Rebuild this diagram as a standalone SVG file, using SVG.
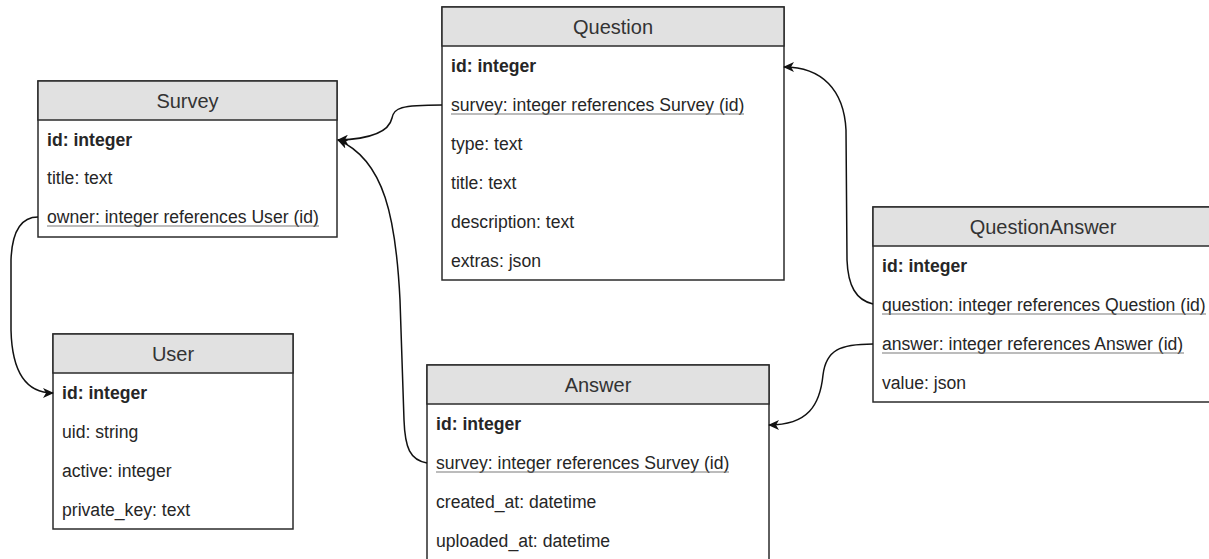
<svg xmlns="http://www.w3.org/2000/svg" width="1209" height="559" viewBox="0 0 1209 559">
  <style>
    .box { fill: #ffffff; stroke: #2b2b2b; stroke-width: 1.5; }
    .head { fill: #e1e1e1; stroke: #2b2b2b; stroke-width: 1.5; }
    .title { font-family: "Liberation Sans", Arial, sans-serif; font-size: 20px; fill: #333333; text-anchor: middle; }
    .row { font-family: "Liberation Sans", Arial, sans-serif; font-size: 17.6px; fill: #262626; }
    .pk { font-weight: bold; }
    .uline { stroke: #7a7a7a; stroke-width: 1.2; }
    .edge { fill: none; stroke: #111111; stroke-width: 1.5; marker-end: url(#arrow); }
  </style>
  <defs>
    <marker id="arrow" markerWidth="12" markerHeight="10" refX="10" refY="5" orient="auto" markerUnits="userSpaceOnUse">
      <path d="M0,0 L11,5 L0,10 L3,5 Z" fill="#111111"/>
    </marker>
  </defs>
  <rect width="1209" height="559" fill="#ffffff"/>

  <!-- Survey table -->
  <g id="survey">
    <rect class="box" x="38" y="81" width="299" height="156"/>
    <rect class="head" x="38" y="81" width="299" height="39"/>
    <text class="title" x="187.5" y="108">Survey</text>
    <text class="row pk" x="47" y="146">id: integer</text>
    <text class="row" x="47" y="184">title: text</text>
    <text class="row" x="47" y="223">owner: integer references User (id)</text>
    <line class="uline" x1="47" y1="226" x2="319" y2="226"/>
  </g>

  <!-- Question table -->
  <g id="question">
    <rect class="box" x="442" y="7" width="342" height="273"/>
    <rect class="head" x="442" y="7" width="342" height="39"/>
    <text class="title" x="613" y="34">Question</text>
    <text class="row pk" x="451" y="72">id: integer</text>
    <text class="row" x="451" y="111">survey: integer references Survey (id)</text>
    <line class="uline" x1="451" y1="114" x2="744" y2="114"/>
    <text class="row" x="451" y="150">type: text</text>
    <text class="row" x="451" y="189">title: text</text>
    <text class="row" x="451" y="228">description: text</text>
    <text class="row" x="451" y="267">extras: json</text>
  </g>

  <!-- QuestionAnswer table -->
  <g id="questionanswer">
    <rect class="box" x="873" y="207" width="340" height="195"/>
    <rect class="head" x="873" y="207" width="340" height="39"/>
    <text class="title" x="1043" y="234">QuestionAnswer</text>
    <text class="row pk" x="882" y="272">id: integer</text>
    <text class="row" x="882" y="311">question: integer references Question (id)</text>
    <line class="uline" x1="882" y1="314" x2="1206" y2="314"/>
    <text class="row" x="882" y="350">answer: integer references Answer (id)</text>
    <line class="uline" x1="882" y1="353" x2="1184" y2="353"/>
    <text class="row" x="882" y="389">value: json</text>
  </g>

  <!-- User table -->
  <g id="user">
    <rect class="box" x="53" y="334" width="240" height="195"/>
    <rect class="head" x="53" y="334" width="240" height="39"/>
    <text class="title" x="173" y="361">User</text>
    <text class="row pk" x="62" y="399">id: integer</text>
    <text class="row" x="62" y="438">uid: string</text>
    <text class="row" x="62" y="477">active: integer</text>
    <text class="row" x="62" y="516">private_key: text</text>
  </g>

  <!-- Answer table -->
  <g id="answer">
    <rect class="box" x="427" y="365" width="342" height="205"/>
    <rect class="head" x="427" y="365" width="342" height="39"/>
    <text class="title" x="598" y="392">Answer</text>
    <text class="row pk" x="436" y="430">id: integer</text>
    <text class="row" x="436" y="469">survey: integer references Survey (id)</text>
    <line class="uline" x1="436" y1="472" x2="729" y2="472"/>
    <text class="row" x="436" y="508">created_at: datetime</text>
    <text class="row" x="436" y="547">uploaded_at: datetime</text>
  </g>

  <!-- Foreign key connectors -->
  <g id="connectors">
    <path class="edge" d="M442,105 C400,105 394,108 392,118 C389,132 372,139 338,140"/>
    <path class="edge" d="M427,463 C410,460 405,448 404,420 L400,300 C396,220 385,160 338,140"/>
    <path class="edge" d="M38,217 C20,217 12,232 11,260 L11,330 C12,372 26,393 53,393"/>
    <path class="edge" d="M873,304 C856,300 848,286 847,260 L846,130 C844,90 822,67 784,67"/>
    <path class="edge" d="M873,344 C840,344 826,350 823,375 C820,405 808,425 769,425"/>
  </g>
</svg>
